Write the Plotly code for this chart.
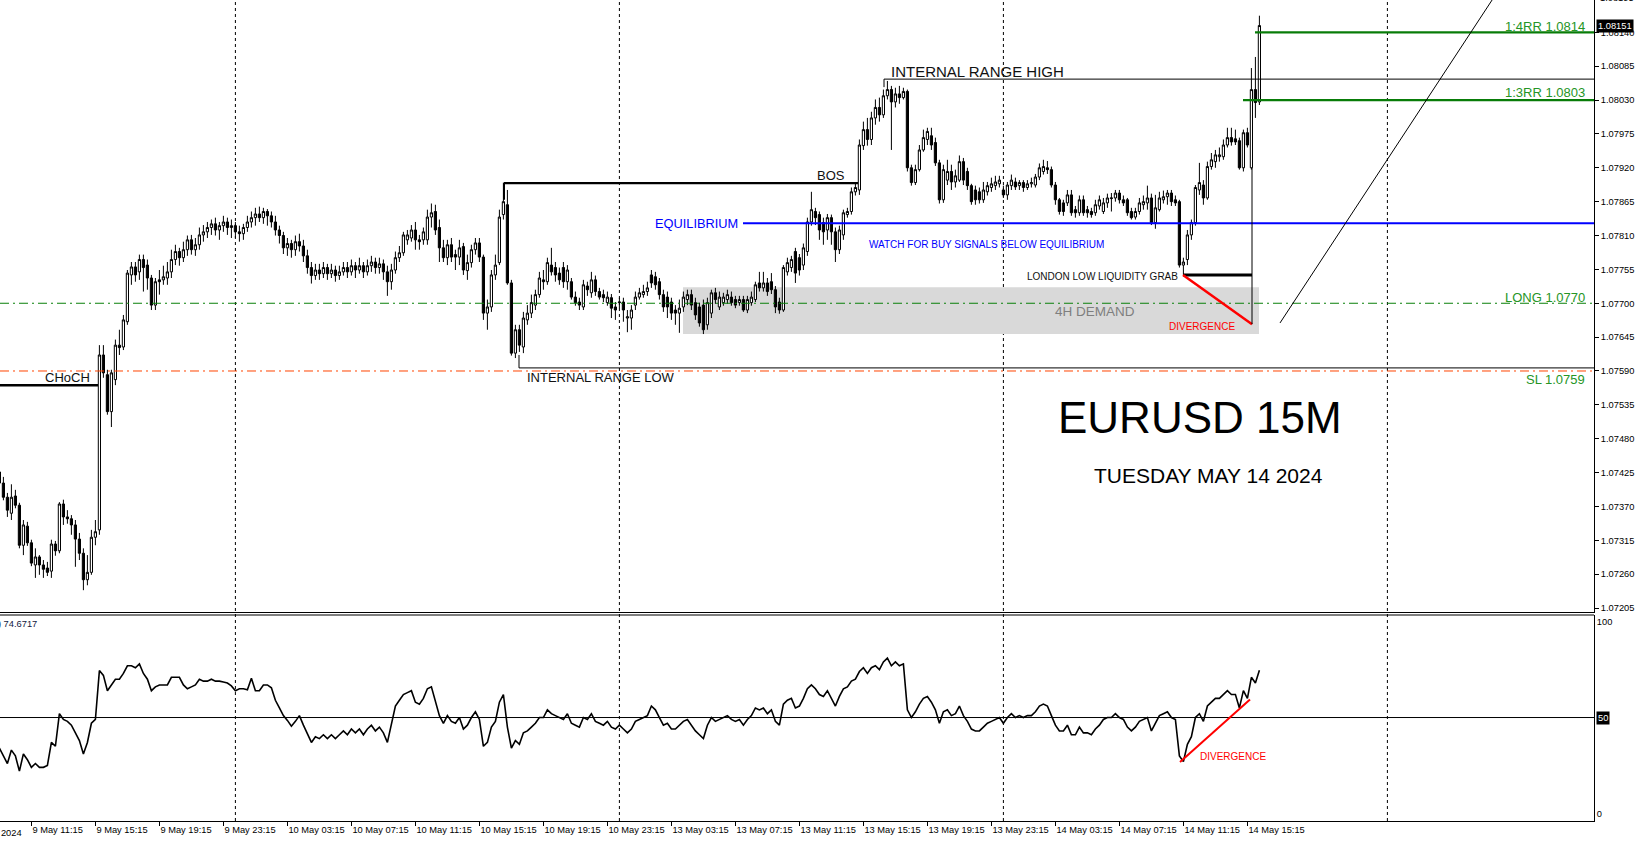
import plotly.graph_objects as go

# ---------------- data ----------------
bar_index = list(range(-8, 308))  # 15M bars, 0 = 9 May 11:15

opens = [
1.07426,1.07408,1.07385,1.07359,1.07387,1.07372,1.07307,1.07338,1.07311,1.07275,
1.07288,1.07275,1.07270,1.07265,1.07309,1.07298,1.07374,1.07353,1.07350,1.07340,
1.07317,1.07294,1.07251,1.07263,1.07320,1.07332,1.07616,1.07584,1.07524,1.07576,
1.07632,1.07629,1.07670,1.07746,1.07759,1.07751,1.07771,1.07762,1.07741,1.07697,
1.07738,1.07738,1.07741,1.07751,1.07771,1.07784,1.07774,1.07787,1.07803,1.07787,
1.07795,1.07811,1.07816,1.07823,1.07829,1.07819,1.07826,1.07832,1.07823,1.07826,
1.07816,1.07813,1.07823,1.07832,1.07839,1.07845,1.07839,1.07849,1.07842,1.07832,
1.07819,1.07810,1.07790,1.07797,1.07787,1.07800,1.07793,1.07777,1.07758,1.07745,
1.07754,1.07748,1.07758,1.07748,1.07754,1.07745,1.07751,1.07758,1.07751,1.07761,
1.07754,1.07761,1.07751,1.07761,1.07767,1.07758,1.07764,1.07751,1.07735,1.07754,
1.07774,1.07782,1.07803,1.07806,1.07819,1.07803,1.07803,1.07803,1.07840,1.07849,
1.07823,1.07790,1.07774,1.07795,1.07779,1.07775,1.07792,1.07753,1.07766,1.07787,
1.07798,1.07775,1.07684,1.07694,1.07746,1.07766,1.07844,1.07860,1.07733,1.07619,
1.07657,1.07629,1.07673,1.07684,1.07697,1.07714,1.07738,1.07735,1.07762,1.07758,
1.07749,1.07758,1.07735,1.07735,1.07710,1.07702,1.07694,1.07728,1.07717,1.07738,
1.07719,1.07714,1.07701,1.07709,1.07694,1.07701,1.07702,1.07676,1.07676,1.07697,
1.07710,1.07714,1.07719,1.07746,1.07743,1.07735,1.07714,1.07710,1.07702,1.07689,
1.07684,1.07694,1.07706,1.07714,1.07701,1.07694,1.07697,1.07665,1.07684,1.07717,
1.07694,1.07701,1.07706,1.07710,1.07706,1.07701,1.07706,1.07689,1.07701,1.07706,
1.07733,1.07725,1.07733,1.07735,1.07722,1.07702,1.07689,1.07751,1.07758,1.07784,
1.07774,1.07762,1.07784,1.07832,1.07849,1.07844,1.07831,1.07819,1.07839,1.07816,
1.07787,1.07811,1.07844,1.07849,1.07881,1.07884,1.07956,1.07982,1.07966,1.08001,
1.08018,1.08006,1.08037,1.08047,1.08027,1.08040,1.08034,1.08044,1.07920,1.07896,
1.07917,1.07949,1.07966,1.07972,1.07961,1.07928,1.07868,1.07900,1.07914,1.07897,
1.07900,1.07930,1.07914,1.07891,1.07884,1.07881,1.07868,1.07881,1.07888,1.07891,
1.07894,1.07884,1.07876,1.07891,1.07897,1.07891,1.07896,1.07888,1.07894,1.07892,
1.07905,1.07914,1.07920,1.07917,1.07892,1.07868,1.07863,1.07863,1.07876,1.07852,
1.07847,1.07868,1.07852,1.07849,1.07847,1.07858,1.07849,1.07863,1.07870,1.07871,
1.07879,1.07868,1.07868,1.07849,1.07840,1.07849,1.07860,1.07863,1.07871,1.07831,
1.07852,1.07868,1.07873,1.07879,1.07868,1.07865,1.07762,1.07771,1.07811,1.07831,
1.07884,1.07892,1.07871,1.07922,1.07930,1.07938,1.07938,1.07957,1.07969,1.07967,
1.07964,1.07920,1.07977,1.07920,1.08047,1.08027]

highs = [
1.07437,1.07418,1.07392,1.07406,1.07397,1.07376,1.07348,1.07345,1.07316,1.07302,
1.07291,1.07283,1.07280,1.07316,1.07314,1.07377,1.07381,1.07364,1.07356,1.07348,
1.07327,1.07302,1.07291,1.07332,1.07348,1.07632,1.07632,1.07592,1.07592,1.07641,
1.07657,1.07681,1.07754,1.07767,1.07767,1.07779,1.07779,1.07771,1.07746,1.07741,
1.07754,1.07761,1.07767,1.07787,1.07795,1.07790,1.07800,1.07810,1.07811,1.07806,
1.07823,1.07827,1.07832,1.07836,1.07839,1.07832,1.07842,1.07839,1.07836,1.07832,
1.07826,1.07829,1.07842,1.07849,1.07855,1.07857,1.07855,1.07853,1.07849,1.07842,
1.07826,1.07816,1.07806,1.07803,1.07810,1.07813,1.07803,1.07787,1.07767,1.07764,
1.07764,1.07767,1.07764,1.07764,1.07761,1.07761,1.07767,1.07767,1.07771,1.07767,
1.07774,1.07767,1.07771,1.07777,1.07774,1.07774,1.07771,1.07761,1.07764,1.07784,
1.07793,1.07816,1.07819,1.07827,1.07832,1.07811,1.07823,1.07852,1.07862,1.07860,
1.07836,1.07803,1.07803,1.07806,1.07787,1.07803,1.07798,1.07779,1.07795,1.07806,
1.07806,1.07779,1.07706,1.07754,1.07779,1.07852,1.07896,1.07884,1.07738,1.07665,
1.07665,1.07686,1.07697,1.07714,1.07722,1.07751,1.07754,1.07774,1.07790,1.07767,
1.07758,1.07767,1.07762,1.07741,1.07719,1.07709,1.07738,1.07735,1.07751,1.07745,
1.07725,1.07722,1.07719,1.07715,1.07702,1.07709,1.07709,1.07689,1.07697,1.07719,
1.07725,1.07730,1.07735,1.07754,1.07751,1.07741,1.07722,1.07719,1.07709,1.07697,
1.07706,1.07719,1.07722,1.07722,1.07709,1.07701,1.07706,1.07709,1.07722,1.07725,
1.07719,1.07717,1.07722,1.07719,1.07712,1.07712,1.07712,1.07712,1.07719,1.07735,
1.07751,1.07751,1.07741,1.07749,1.07728,1.07709,1.07762,1.07774,1.07777,1.07790,
1.07780,1.07797,1.07839,1.07881,1.07855,1.07849,1.07839,1.07845,1.07844,1.07823,
1.07826,1.07852,1.07855,1.07888,1.07894,1.07966,1.07995,1.08001,1.08011,1.08031,
1.08034,1.08047,1.08061,1.08053,1.08050,1.08053,1.08050,1.08047,1.07925,1.07925,
1.07957,1.07982,1.07985,1.07985,1.07969,1.07933,1.07925,1.07933,1.07925,1.07917,
1.07940,1.07936,1.07920,1.07894,1.07891,1.07888,1.07897,1.07897,1.07904,1.07907,
1.07907,1.07891,1.07897,1.07909,1.07904,1.07900,1.07900,1.07900,1.07904,1.07910,
1.07927,1.07933,1.07931,1.07922,1.07897,1.07871,1.07868,1.07884,1.07884,1.07858,
1.07875,1.07875,1.07858,1.07855,1.07868,1.07875,1.07871,1.07878,1.07879,1.07884,
1.07884,1.07875,1.07871,1.07855,1.07855,1.07871,1.07875,1.07891,1.07878,1.07876,
1.07881,1.07883,1.07884,1.07884,1.07875,1.07868,1.07774,1.07819,1.07836,1.07892,
1.07928,1.07900,1.07930,1.07944,1.07949,1.07953,1.07966,1.07985,1.07985,1.07982,
1.07969,1.07982,1.07985,1.08082,1.08100,1.08167]

lows = [
1.07397,1.07380,1.07353,1.07348,1.07367,1.07302,1.07291,1.07306,1.07273,1.07254,
1.07259,1.07254,1.07257,1.07254,1.07290,1.07294,1.07340,1.07342,1.07324,1.07272,
1.07283,1.07234,1.07242,1.07259,1.07307,1.07324,1.07579,1.07519,1.07499,1.07567,
1.07616,1.07624,1.07665,1.07730,1.07735,1.07738,1.07719,1.07722,1.07689,1.07689,
1.07714,1.07730,1.07730,1.07741,1.07762,1.07761,1.07767,1.07777,1.07779,1.07777,
1.07787,1.07800,1.07806,1.07811,1.07810,1.07803,1.07816,1.07811,1.07806,1.07806,
1.07800,1.07803,1.07816,1.07823,1.07826,1.07832,1.07829,1.07826,1.07823,1.07810,
1.07797,1.07780,1.07777,1.07774,1.07777,1.07784,1.07767,1.07748,1.07732,1.07738,
1.07738,1.07741,1.07738,1.07741,1.07735,1.07738,1.07745,1.07741,1.07745,1.07741,
1.07748,1.07741,1.07745,1.07751,1.07748,1.07748,1.07738,1.07712,1.07722,1.07748,
1.07767,1.07777,1.07795,1.07800,1.07787,1.07787,1.07795,1.07795,1.07823,1.07811,
1.07767,1.07767,1.07762,1.07767,1.07754,1.07762,1.07746,1.07738,1.07758,1.07779,
1.07767,1.07673,1.07657,1.07686,1.07738,1.07762,1.07836,1.07730,1.07615,1.07611,
1.07621,1.07619,1.07665,1.07676,1.07689,1.07709,1.07722,1.07730,1.07745,1.07735,
1.07730,1.07725,1.07722,1.07706,1.07696,1.07689,1.07689,1.07712,1.07709,1.07712,
1.07706,1.07702,1.07696,1.07676,1.07673,1.07692,1.07670,1.07653,1.07657,1.07689,
1.07706,1.07709,1.07712,1.07725,1.07722,1.07706,1.07686,1.07676,1.07673,1.07665,
1.07652,1.07686,1.07697,1.07689,1.07673,1.07662,1.07650,1.07657,1.07676,1.07699,
1.07689,1.07696,1.07699,1.07696,1.07692,1.07696,1.07686,1.07684,1.07696,1.07702,
1.07719,1.07719,1.07712,1.07715,1.07684,1.07683,1.07686,1.07745,1.07751,1.07733,
1.07745,1.07754,1.07777,1.07826,1.07827,1.07803,1.07795,1.07803,1.07795,1.07767,
1.07780,1.07803,1.07839,1.07844,1.07875,1.07876,1.07949,1.07956,1.07957,1.07990,
1.07995,1.08001,1.08031,1.07949,1.08018,1.08024,1.08031,1.07914,1.07891,1.07892,
1.07914,1.07946,1.07957,1.07949,1.07923,1.07862,1.07863,1.07892,1.07884,1.07888,
1.07897,1.07892,1.07884,1.07860,1.07860,1.07862,1.07863,1.07875,1.07881,1.07884,
1.07888,1.07871,1.07868,1.07884,1.07884,1.07884,1.07881,1.07884,1.07888,1.07888,
1.07900,1.07909,1.07910,1.07888,1.07860,1.07844,1.07842,1.07858,1.07842,1.07839,
1.07842,1.07842,1.07839,1.07839,1.07842,1.07852,1.07845,1.07855,1.07849,1.07865,
1.07862,1.07858,1.07842,1.07836,1.07836,1.07844,1.07852,1.07852,1.07827,1.07821,
1.07849,1.07862,1.07860,1.07858,1.07858,1.07758,1.07746,1.07762,1.07803,1.07826,
1.07876,1.07860,1.07868,1.07917,1.07920,1.07930,1.07933,1.07953,1.07956,1.07957,
1.07917,1.07914,1.07953,1.07917,1.08001,1.08022]

closes = [
1.07408,1.07385,1.07364,1.07385,1.07372,1.07307,1.07340,1.07311,1.07278,1.07288,
1.07275,1.07268,1.07263,1.07309,1.07298,1.07374,1.07353,1.07350,1.07340,1.07317,
1.07294,1.07251,1.07263,1.07320,1.07329,1.07616,1.07587,1.07524,1.07587,1.07632,
1.07628,1.07673,1.07749,1.07759,1.07746,1.07771,1.07758,1.07741,1.07697,1.07735,
1.07735,1.07743,1.07751,1.07771,1.07784,1.07774,1.07787,1.07803,1.07787,1.07795,
1.07811,1.07816,1.07823,1.07829,1.07819,1.07826,1.07832,1.07823,1.07826,1.07816,
1.07813,1.07823,1.07832,1.07839,1.07845,1.07839,1.07849,1.07842,1.07832,1.07819,
1.07810,1.07790,1.07797,1.07787,1.07800,1.07793,1.07777,1.07758,1.07745,1.07754,
1.07748,1.07758,1.07748,1.07754,1.07745,1.07751,1.07758,1.07751,1.07761,1.07754,
1.07761,1.07751,1.07761,1.07767,1.07758,1.07764,1.07751,1.07735,1.07754,1.07774,
1.07782,1.07811,1.07811,1.07819,1.07803,1.07800,1.07816,1.07840,1.07847,1.07819,
1.07790,1.07774,1.07795,1.07775,1.07775,1.07790,1.07754,1.07766,1.07787,1.07798,
1.07775,1.07684,1.07694,1.07746,1.07762,1.07840,1.07865,1.07733,1.07619,1.07657,
1.07632,1.07676,1.07684,1.07701,1.07714,1.07741,1.07735,1.07766,1.07751,1.07746,
1.07738,1.07735,1.07754,1.07710,1.07701,1.07697,1.07730,1.07722,1.07738,1.07719,
1.07710,1.07709,1.07710,1.07692,1.07689,1.07702,1.07689,1.07678,1.07689,1.07710,
1.07717,1.07719,1.07725,1.07733,1.07730,1.07714,1.07694,1.07694,1.07684,1.07684,
1.07692,1.07710,1.07714,1.07697,1.07681,1.07668,1.07657,1.07701,1.07717,1.07706,
1.07710,1.07710,1.07714,1.07701,1.07697,1.07706,1.07689,1.07706,1.07710,1.07730,
1.07725,1.07733,1.07719,1.07722,1.07694,1.07689,1.07758,1.07766,1.07771,1.07749,
1.07754,1.07790,1.07832,1.07852,1.07839,1.07819,1.07816,1.07839,1.07816,1.07787,
1.07819,1.07847,1.07849,1.07881,1.07888,1.07957,1.07982,1.07966,1.08001,1.08018,
1.08006,1.08037,1.08047,1.08027,1.08040,1.08034,1.08044,1.07920,1.07896,1.07917,
1.07949,1.07969,1.07979,1.07957,1.07928,1.07868,1.07917,1.07914,1.07897,1.07907,
1.07930,1.07900,1.07891,1.07865,1.07868,1.07868,1.07884,1.07891,1.07894,1.07897,
1.07900,1.07876,1.07892,1.07900,1.07889,1.07896,1.07888,1.07894,1.07896,1.07905,
1.07920,1.07922,1.07917,1.07892,1.07868,1.07849,1.07849,1.07876,1.07847,1.07847,
1.07868,1.07847,1.07847,1.07844,1.07860,1.07868,1.07863,1.07871,1.07871,1.07879,
1.07868,1.07863,1.07847,1.07839,1.07849,1.07863,1.07865,1.07871,1.07831,1.07855,
1.07871,1.07873,1.07879,1.07865,1.07863,1.07762,1.07767,1.07811,1.07831,1.07888,
1.07896,1.07871,1.07922,1.07933,1.07941,1.07941,1.07957,1.07969,1.07962,1.07962,
1.07920,1.07977,1.07957,1.08047,1.08026,1.08151]

rsi_values = [
34,30,26,33,30,22,31,28,24,26,
24,24,25,37,35,52,49,48,46,42,
38,31,37,47,49,74.5,72,64,67,70,
70,73,77,77,76,78,73,70,64,66,
67,67,67,71,71,71,67,65,66,67,
70,69,69,70,69,69,68.5,68,66.5,64,
65,65,64.5,70.5,64,64,67,67,65.5,59,
55,51,48.5,45.5,48,51,46,41,37,40,
39,41,39,41,39,41,43,41,44,42,
44,41,44,46,43,45,42,37,47,56,
59,62,63,64,58,57,60,65,66,58,
51,47,51,48,47,50,44,46,50,53,
49,35,37,45,48,58,62,45,34,38,
36,42,43,45,47,50,50,54,52,51,
50,49,52,47,46,45,50,49,52,48,
47,46,48,45,44,46,44,42,44,48,
49,50,51,56,54,50,46,47,44,44,
46,48,49,46,43,41,39,46,50,48,
49,50,51,49,48,49,46,49,51,55,
54,55,52,54,48,46,57,59,60,55,
56,60,65,67,65,62,61,64,60,56,
61,65,66,69,70,74,76,73,76,77,
75,79,81,77,79,77,78,54,50,53,
57,60,61,58,54,47,53,54,51,52,
56,51,48,44,43,43,45,47,48,49,
50,47,50,52,50,51,50,51,51,53,
56,57,56,51,46,43,43,46,41,41,
45,42,42,41,44,46,49,50,50,52,
50,49,45,43,45,48,49,50,43,47,
51,52,53,50,49,30,27,36,40,50,
52,48,56,58,60,60,62,64,62,62,
55,64,60,71,68,74.6717]

time_tick_bars = [0, 16, 32, 48, 64, 80, 96, 112, 128, 144, 160, 176, 192, 208,
                  224, 240, 256, 272, 288, 304]
time_tick_labels = ["9 May 11:15", "9 May 15:15", "9 May 19:15", "9 May 23:15",
                    "10 May 03:15", "10 May 07:15", "10 May 11:15", "10 May 15:15",
                    "10 May 19:15", "10 May 23:15", "13 May 03:15", "13 May 07:15",
                    "13 May 11:15", "13 May 15:15", "13 May 19:15", "13 May 23:15",
                    "14 May 03:15", "14 May 07:15", "14 May 11:15", "14 May 15:15"]
price_ticks = [1.08140, 1.08085, 1.08030, 1.07975, 1.07920, 1.07865, 1.07810,
               1.07755, 1.07700, 1.07645, 1.07590, 1.07535, 1.07480, 1.07425,
               1.07370, 1.07315, 1.07260, 1.07205]
day_separator_bars = [51, 147, 243, 339]

RANGE_HIGH = 1.08064
RANGE_LOW = 1.07595
EQUILIBRIUM = 1.07830
BOS_LEVEL = 1.07895
CHOCH_LEVEL = 1.07567
RR4_LEVEL = 1.0814
RR3_LEVEL = 1.0803
LONG_LEVEL = 1.0770
SL_LEVEL = 1.0759
GRAB_LEVEL = 1.07746
DEMAND_LOW, DEMAND_HIGH = 1.07650, 1.07726
LAST_PRICE = 1.08151
TOP_PRICE_LABEL = 1.08195
RSI_LAST = 74.6717

# ---------------- figure ----------------
FONT = "Liberation Sans, Arial, sans-serif"
X_RANGE = [-7.85, 390.65]
GREEN_TXT = "#259525"
GREEN_LN = "#087c08"

fig = go.Figure()

fig.add_trace(go.Candlestick(
    x=bar_index, open=opens, high=highs, low=lows, close=closes,
    increasing=dict(line=dict(color="black", width=1), fillcolor="white"),
    decreasing=dict(line=dict(color="black", width=1), fillcolor="black"),
    whiskerwidth=0, showlegend=False, hoverinfo="skip",
    xaxis="x", yaxis="y"))

fig.add_trace(go.Scatter(
    x=bar_index, y=rsi_values, mode="lines",
    line=dict(color="black", width=1.6), showlegend=False, hoverinfo="skip",
    xaxis="x2", yaxis="y2"))

shapes = []
for b in day_separator_bars:
    shapes.append(dict(type="line", xref="x", yref="paper", x0=b, x1=b, y0=0, y1=1,
                       line=dict(color="black", width=1, dash="3px,3px"), layer="below"))
shapes.append(dict(type="rect", xref="x", yref="y", x0=162.9, x1=306.9,
                   y0=DEMAND_LOW, y1=DEMAND_HIGH, fillcolor="#d9d9d9",
                   line=dict(width=0), layer="below"))
right_end = X_RANGE[1]
def hline(x0, x1, y, color, width, dash="solid", yref="y", xref="x"):
    shapes.append(dict(type="line", xref=xref, yref=yref, x0=x0, x1=x1, y0=y, y1=y,
                       line=dict(color=color, width=width, dash=dash)))
def seg(x0, y0, x1, y1, color, width, yref="y", xref="x"):
    shapes.append(dict(type="line", xref=xref, yref=yref, x0=x0, x1=x1, y0=y0, y1=y1,
                       line=dict(color=color, width=width)))

hline(X_RANGE[0], right_end, LONG_LEVEL, "#0a800a", 1, dash="9px,4px,2px,4px")
hline(X_RANGE[0], right_end, SL_LEVEL, "#ff4500", 1, dash="9px,4px,2px,4px")
hline(177.9, right_end, EQUILIBRIUM, "#0000ff", 2)
hline(118.15, 206.65, BOS_LEVEL, "black", 2.2)
seg(118.15, BOS_LEVEL, 118.15, 1.07868, "black", 2)
hline(213.15, right_end, RANGE_HIGH, "black", 1)
seg(213.15, RANGE_HIGH, 213.15, 1.08051, "black", 1)
hline(121.9, right_end, RANGE_LOW, "black", 1)
seg(121.9, RANGE_LOW, 121.9, 1.07616, "black", 1)
hline(X_RANGE[0], 16.65, CHOCH_LEVEL, "black", 2.5)
hline(305.9, right_end, RR4_LEVEL, GREEN_LN, 2.2)
hline(302.9, right_end, RR3_LEVEL, GREEN_LN, 2.2)
hline(287.9, 305.15, GRAB_LEVEL, "black", 3)
seg(287.9, GRAB_LEVEL, 305.15, 1.07666, "#ff0000", 2.5)
seg(305.15, 1.07666, 305.15, 1.07920, "black", 1)
seg(312.15, 1.07668, 367.65, 1.08217, "black", 1)
hline(X_RANGE[0], right_end, 50, "black", 1, yref="y2", xref="x2")
seg(287.15, 26.8, 304.65, 59.4, "#ff0000", 2, yref="y2", xref="x2")
shapes.append(dict(type="line", xref="paper", yref="paper", x0=0, x1=1,
                   y0=0.25091, y1=0.25091, line=dict(color="black", width=1)))

ann = []
def text(x, y, s, size, color="black", xanchor="left", yref="y", xref="x", **kw):
    d = dict(x=x, y=y, xref=xref, yref=yref, text=s, showarrow=False,
             xanchor=xanchor, yanchor="middle",
             font=dict(family=FONT, size=size, color=color))
    d.update(kw)
    ann.append(d)

text(177.1, EQUILIBRIUM, "EQUILIBRIUM", 12.8, "#0000ff", "right")
text(208.9, 1.07795, "WATCH FOR BUY SIGNALS BELOW EQUILIBRIUM", 10, "#0000ff", "left")
text(199.9, 1.07907, "BOS", 13, "#111111", "center")
text(214.4, 1.08077, "INTERNAL RANGE HIGH", 15, "#111111", "left")
text(123.4, 1.07580, "INTERNAL RANGE LOW", 13, "#111111", "left")
text(15.2, 1.07580, "CHoCH", 13, "#111111", "right")
text(287.1, 1.07744, "LONDON LOW LIQUIDITY GRAB", 10, "#111111", "right")
text(292.7, 1.07663, "DIVERGENCE", 10, "#ff0000", "center")
text(265.9, 1.07686, "4H DEMAND", 13.5, "#7f7f7f", "center")
text(388.9, 1.08149, "1:4RR 1.0814", 13, GREEN_TXT, "right")
text(388.9, 1.08042, "1:3RR 1.0803", 13, GREEN_TXT, "right")
text(388.9, 1.07710, "LONG 1.0770", 13, GREEN_TXT, "right")
text(388.9, 1.07577, "SL 1.0759", 13, GREEN_TXT, "right")
text(-8.5, 1.07710, "24070 buy 10.00", 9.5, "#333333", "left")
text(-8.5, 1.07598, "24070 sl", 9.5, "#333333", "left")
text(292.1, 1.07514, "EURUSD 15M", 44, "black", "center")
text(294.2, 1.07421, "TUESDAY MAY 14 2024", 21, "black", "center")
text(300.4, 29.4, "DIVERGENCE", 10, "#ff0000", "center", yref="y2", xref="x2")
text(2.0, 98.8, "RSI(14) %.4f" % RSI_LAST, 9.3, "#101840", "right", yref="y2", xref="x2")
text(-1.9, -0.0146, "9 May 2024", 9.3, "black", "right", yref="paper")
text(1.0, 1.0, "%.5f" % TOP_PRICE_LABEL, 9.3, "black", "left", xref="paper",
     yref="paper", xshift=4, yshift=2)
text(1.0, LAST_PRICE, "%.5f" % LAST_PRICE, 9.3, "white", "left", xref="paper",
     bgcolor="black", borderpad=1, xshift=2)
text(1.0, 50, "50", 9.3, "white", "left", xref="paper", yref="y2",
     bgcolor="black", borderpad=1, xshift=2)

tickfont = dict(family=FONT, size=9.3, color="black")
fig.update_layout(
    width=1637, height=841, autosize=False,
    margin=dict(l=0, r=43, t=0, b=20, pad=0),
    paper_bgcolor="white", plot_bgcolor="white",
    boxgap=0.45, boxgroupgap=0, hovermode=False,
    shapes=shapes, annotations=ann,
    xaxis=dict(domain=[0, 1], range=X_RANGE, anchor="y", showticklabels=False,
               showgrid=False, zeroline=False, showline=True, linecolor="black",
               linewidth=1, ticks="", rangeslider=dict(visible=False), fixedrange=True),
    yaxis=dict(domain=[0.25457, 1], range=[1.071986, 1.081925], side="right",
               anchor="x", tickvals=price_ticks,
               ticktext=["%.5f" % v for v in price_ticks],
               ticks="outside", ticklen=4, tickcolor="black", showline=True,
               linecolor="black", linewidth=1, showgrid=False, zeroline=False,
               tickfont=tickfont, automargin=False),
    xaxis2=dict(domain=[0, 1], range=X_RANGE, anchor="y2", matches="x",
                tickvals=time_tick_bars, ticktext=time_tick_labels, tickangle=0,
                ticks="outside", ticklen=4, tickcolor="black",
                ticklabelposition="outside right", showgrid=False, zeroline=False,
                showline=True, linecolor="black", linewidth=1, tickfont=tickfont,
                automargin=False),
    yaxis2=dict(domain=[0, 0.25091], range=[-4.0, 103.5], side="right", anchor="x2",
                tickvals=[0, 100], ticktext=["0", "100"], ticks="", showline=True,
                linecolor="black", linewidth=1, showgrid=False, zeroline=False,
                tickfont=tickfont, automargin=False),
)

fig.write_html("out.html", config={"displayModeBar": False, "staticPlot": True})

# remove the browser's default page margin so the chart sits at the window origin
with open("out.html", "r", encoding="utf-8") as fh:
    html = fh.read()
html = html.replace("<head>", "<head><style>html,body{margin:0;padding:0;overflow:hidden;}</style>", 1)
with open("out.html", "w", encoding="utf-8") as fh:
    fh.write(html)
